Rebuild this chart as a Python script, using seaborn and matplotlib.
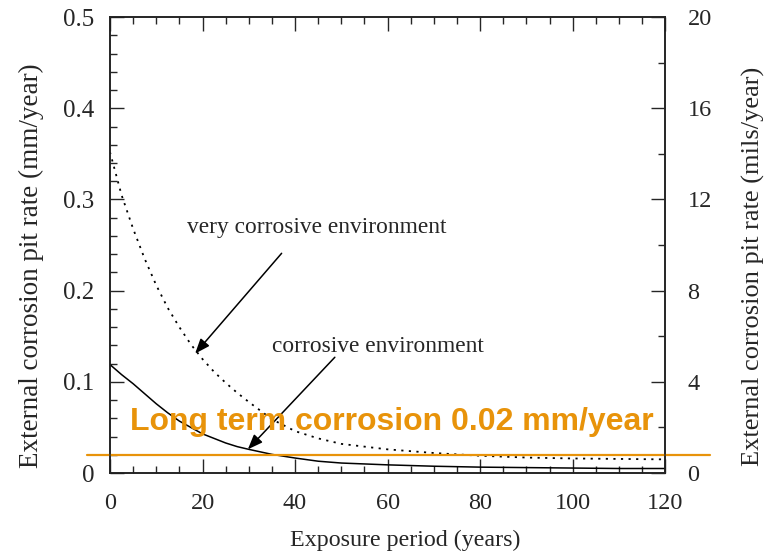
import matplotlib
matplotlib.use("Agg")
import matplotlib.pyplot as plt
import seaborn as sns
import pandas as pd
from matplotlib.ticker import MultipleLocator

years = [0, 2.5, 5, 7.5, 10, 12.5, 15, 17.5, 20, 22.5, 25, 27.5, 30, 35, 40, 45, 50,
         60, 70, 80, 90, 100, 110, 120]
corrosive = [0.119, 0.108, 0.098, 0.087, 0.076, 0.066, 0.057, 0.050, 0.043, 0.038,
             0.033, 0.029, 0.026, 0.0205, 0.0165, 0.013, 0.011, 0.009, 0.0075, 0.0065,
             0.006, 0.0055, 0.005, 0.005]
very_corrosive = [0.352, 0.305, 0.268, 0.235, 0.206, 0.181, 0.160, 0.141, 0.125, 0.111,
                  0.099, 0.088, 0.078, 0.059, 0.046, 0.038, 0.032, 0.026, 0.022, 0.019,
                  0.017, 0.016, 0.0155, 0.015]
long_term_rate = 0.02
x_ticks = [0, 20, 40, 60, 80, 100, 120]
y_ticks = [0, 0.1, 0.2, 0.3, 0.4, 0.5]
mils_ticks = [0, 4, 8, 12, 16, 20]

sns.set_style("ticks")
plt.rcParams['font.family'] = ['Liberation Serif', 'DejaVu Serif']

df = pd.DataFrame({"years": years, "corrosive": corrosive, "very": very_corrosive})

fig = plt.figure(figsize=(7.69, 5.52), dpi=100)
ax = fig.add_axes([0.143, 0.143, 0.722, 0.826])

sns.lineplot(data=df, x="years", y="corrosive", ax=ax, color="black", lw=1.1)
sns.lineplot(data=df, x="years", y="very", ax=ax, color="black", lw=1.3,
             linestyle=(0, (1.2, 3.0)))

ax.set_xlim(0, 120)
ax.set_ylim(0, 0.5)
ax.set_xticks(x_ticks)
ax.set_yticks(y_ticks)
ax.set_xticklabels([str(v) for v in x_ticks])
ax.set_yticklabels(["0"] + [f"{v:.1f}" for v in y_ticks[1:]])
ax.xaxis.set_minor_locator(MultipleLocator(5))
ax.yaxis.set_minor_locator(MultipleLocator(0.02))
ax.tick_params(axis='x', which='both', direction='in', top=True, bottom=True,
               labelsize=17.5, pad=14, width=1.0)
ax.tick_params(axis='y', which='both', direction='in', left=True, right=False,
               labelsize=18, pad=11, width=1.0)
ax.tick_params(which='major', length=10)
ax.tick_params(which='minor', length=5)
ax.set_xlabel("Exposure period (years)", fontsize=17.3, labelpad=12)
ax.set_ylabel("External corrosion pit rate (mm/year)", fontsize=19.5, labelpad=14)
ax.xaxis.label.set_x(0.532)
ax.yaxis.label.set_y(0.454)
for s in ax.spines.values():
    s.set_linewidth(1.1)
    s.set_color("black")

ax2 = ax.twinx()
ax2.set_ylim(0, 20)
ax2.set_yticks(mils_ticks)
ax2.set_yticklabels([str(v) for v in mils_ticks])
ax2.yaxis.set_minor_locator(MultipleLocator(2))
ax2.tick_params(axis='y', which='both', direction='in', labelsize=17.5, pad=16, width=1.0)
ax2.tick_params(which='major', length=10)
ax2.tick_params(which='minor', length=5)
ax2.set_ylabel("External corrosion pit rate (mils/year)", fontsize=19, labelpad=22)
ax2.yaxis.label.set_y(0.454)
for s in ax2.spines.values():
    s.set_linewidth(1.1)

ax.text(16.6, 0.269, "very corrosive environment", fontsize=16.8, va='center', ha='left')
ax.text(35.0, 0.139, "corrosive environment", fontsize=16.8, va='center', ha='left')
arrow_kw = dict(arrowstyle='-|>,head_length=0.9,head_width=0.35', color='black', lw=1.1,
                shrinkA=0, shrinkB=0)
ax.annotate("", xy=(18.4, 0.131), xytext=(37.1, 0.241), arrowprops=arrow_kw)
ax.annotate("", xy=(29.8, 0.026), xytext=(48.6, 0.127), arrowprops=arrow_kw)

orange = "#E8930A"
ax.plot([-5, 129.7], [long_term_rate, long_term_rate], color=orange, lw=1.6,
        clip_on=False, zorder=5)
ax.text(4.3, 0.0555, "Long term corrosion 0.02 mm/year", color=orange, fontsize=23,
        fontweight='bold', family=['Liberation Sans', 'DejaVu Sans'],
        va='center', ha='left', zorder=6)

fig.savefig("out.png", dpi=100)
